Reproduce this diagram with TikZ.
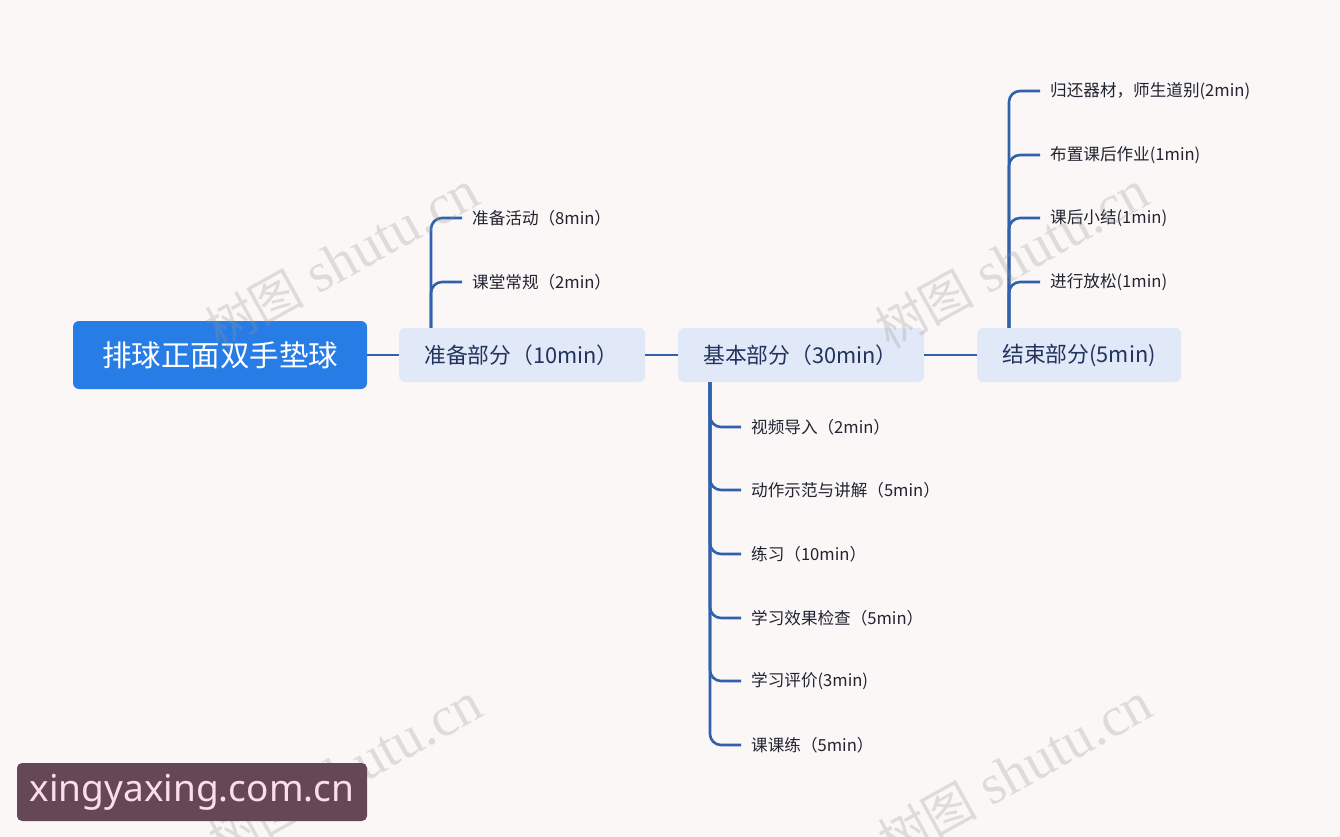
\documentclass[tikz,border=0pt]{standalone}
\usepackage{fontspec}
\setmainfont{Noto Sans CJK SC}
\newfontfamily\cjk{Noto Sans CJK SC}
\newfontfamily\sitefont{Noto Sans}
\newfontfamily\wmserif{Liberation Serif}
\definecolor{bgc}{RGB}{251,247,247}
\definecolor{rootc}{RGB}{40,124,229}
\definecolor{midc}{RGB}{225,232,248}
\definecolor{midtext}{RGB}{34,52,92}
\definecolor{linec}{RGB}{48,98,172}
\definecolor{childc}{RGB}{32,36,48}
\definecolor{sitebg}{RGB}{100,72,86}
\definecolor{sitetext}{RGB}{250,222,236}
\definecolor{wmc}{RGB}{150,150,150}
\begin{document}
\begin{tikzpicture}[x=1pt,y=-1pt,
  conn/.style={draw=linec,line width=2.6pt,rounded corners=11pt},
  link/.style={draw=linec,line width=2.6pt},
  rootbox/.style={fill=rootc,rounded corners=6pt,text=white,font=\fontsize{29.5}{33}\selectfont,minimum width=294pt,minimum height=68pt,inner sep=0pt},
  midbox/.style={fill=midc,rounded corners=6pt,text=midtext,font=\fontsize{21.8}{25}\selectfont,minimum height=54pt,inner xsep=25pt,inner ysep=0pt,align=left,anchor=west},
  child/.style={text=childc,font=\fontsize{16.6}{19}\selectfont,inner sep=0pt,anchor=west},
  wm/.style={text=wmc,opacity=0.28,font=\wmserif\fontsize{56}{60}\selectfont,rotate=29,inner sep=0pt},
  sitebox/.style={fill=sitebg,rounded corners=5pt,text=sitetext,font=\sitefont\fontsize{37}{40}\selectfont,minimum width=350pt,minimum height=58pt,inner sep=0pt}
]
\fill[bgc] (0,0) rectangle (1340,837);
\useasboundingbox (0,0) rectangle (1340,837);

% main boxes
\node[rootbox] (root) at (220,355) {排球正面双手垫球};
\node[midbox,text width=196pt] (prep) at (399,355) {准备部分（10min）};
\node[midbox,text width=196pt] (base) at (678,355) {基本部分（30min）};
\node[midbox,text width=154pt] (fin) at (977,355) {结束部分(5min)};

\draw[link] (root.east) -- (prep.west);
\draw[link] (prep.east) -- (base.west);
\draw[link] (base.east) -- (fin.west);

% children of prep
\node[child] (p1) at (472,218) {准备活动（8min）};
\node[child] (p2) at (472,282) {课堂常规（2min）};
\foreach \c in {p1,p2}
  \draw[conn] ([xshift=32pt]prep.north west) |- ([xshift=-10pt]\c.west);

% children of base
\node[child] (b1) at (751,427) {视频导入（2min）};
\node[child] (b2) at (751,490) {动作示范与讲解（5min）};
\node[child] (b3) at (751,554) {练习（10min）};
\node[child] (b4) at (751,618) {学习效果检查（5min）};
\node[child] (b5) at (751,681) {学习评价(3min)};
\node[child] (b6) at (751,745) {课课练（5min）};
\foreach \c in {b1,b2,b3,b4,b5,b6}
  \draw[conn] ([xshift=32pt]base.south west) |- ([xshift=-10pt]\c.west);

% children of fin
\node[child] (f1) at (1050,91) {归还器材，师生道别(2min)};
\node[child] (f2) at (1050,155) {布置课后作业(1min)};
\node[child] (f3) at (1050,218) {课后小结(1min)};
\node[child] (f4) at (1050,282) {进行放松(1min)};
\foreach \c in {f1,f2,f3,f4}
  \draw[conn] ([xshift=32pt]fin.north west) |- ([xshift=-10pt]\c.west);

% watermarks
\node[wm] (wm1) at (342,260) {{\cjk\fontsize{50}{54}\selectfont 树图} shutu.cn};
\node[wm] (wm2) at (1012,260) {{\cjk\fontsize{50}{54}\selectfont 树图} shutu.cn};
\node[wm] (wm3) at (345,772) {{\cjk\fontsize{50}{54}\selectfont 树图} shutu.cn};
\node[wm] (wm4) at (1015,772) {{\cjk\fontsize{50}{54}\selectfont 树图} shutu.cn};

% site label
\node[sitebox] (site) at (192,792) {xingyaxing.com.cn};
\end{tikzpicture}
\end{document}
